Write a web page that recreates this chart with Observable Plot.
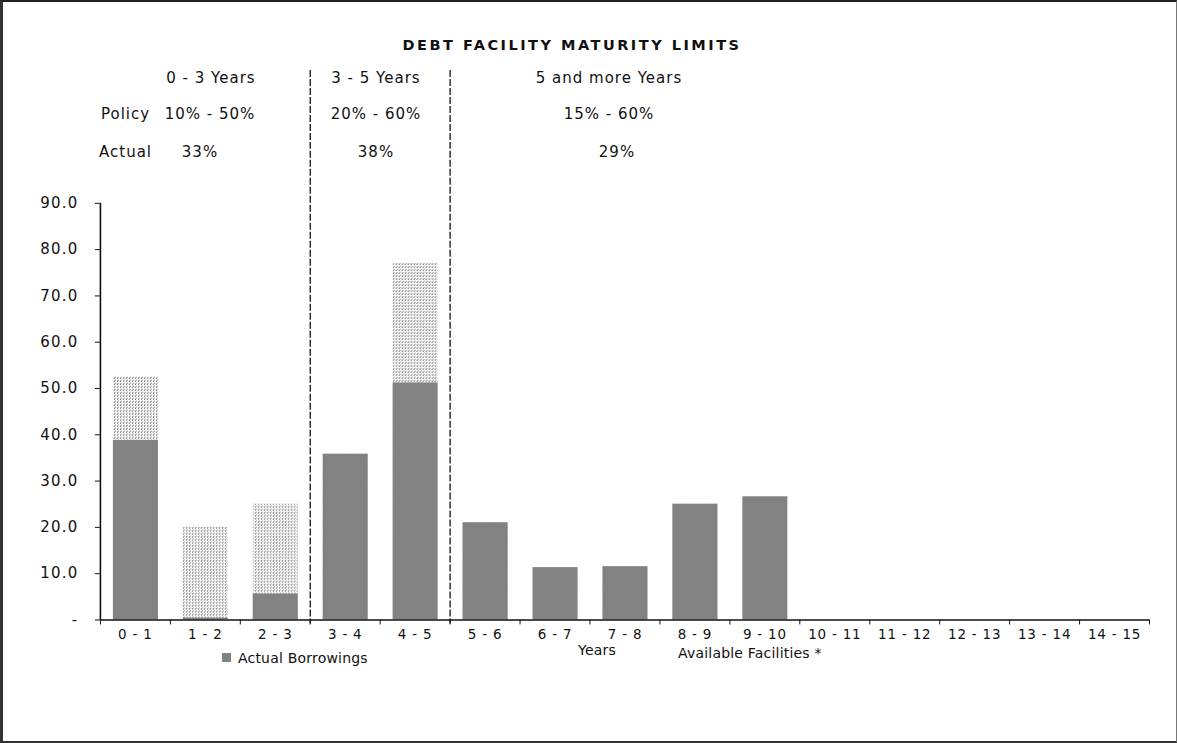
<!DOCTYPE html>
<html>
<head>
<meta charset="utf-8">
<script src="https://cdn.jsdelivr.net/npm/d3@7"></script>
<script src="https://cdn.jsdelivr.net/npm/@observablehq/plot@0.6"></script>
<style>
  html, body { margin: 0; padding: 0; background: #fff; overflow: hidden; }
  #page { position: relative; width: 1177px; height: 743px; overflow: hidden; box-sizing: border-box;
          border-left: 3px solid #333; border-top: 2px solid #222; border-right: 1px solid #777; border-bottom: 2px solid #333;
          font-family: "DejaVu Sans", sans-serif; color: #111; }
  #chart { position: absolute; left: -3px; top: -2px; }
  .lbl { position: absolute; white-space: nowrap; font-size: 15px; letter-spacing: 1px; transform: translate(-50%, -50%); }
  .left { transform: translate(0, -50%); }
  .title { font-weight: bold; font-size: 14.5px; letter-spacing: 2.5px; }
  .legend { font-size: 14px; letter-spacing: 0.2px; }
  .swatch { position: absolute; width: 9px; height: 9px; background: #828282; }
</style>
</head>
<body>
<svg width="0" height="0" style="position:absolute">
  <defs>
    <pattern id="stipple" width="3" height="3" patternUnits="userSpaceOnUse">
      <rect width="3" height="3" fill="#fff"/>
      <rect x="0" y="0" width="1" height="1" fill="#333"/>
      <rect x="1" y="2" width="1" height="1" fill="#888"/>
    </pattern>
  </defs>
</svg>
<div id="page">
  <div id="chart"></div>
</div>
<script>
// ---- data ----
const categories = ["0 - 1", "1 - 2", "2 - 3", "3 - 4", "4 - 5", "5 - 6", "6 - 7", "7 - 8", "8 - 9", "9 - 10", "10 - 11", "11 - 12", "12 - 13", "13 - 14", "14 - 15"];
const actualBorrowings    = [38.8, 0.4, 5.6, 35.8, 51.2, 21.0, 11.3, 11.5, 25.0, 26.6, 0, 0, 0, 0, 0];
const availableFacilities = [52.5, 20.0, 25.0, 35.8, 77.0, 21.0, 11.3, 11.5, 25.0, 26.6, 0, 0, 0, 0, 0];
const yTicks = [0, 10, 20, 30, 40, 50, 60, 70, 80, 90];
const bandDividers = [3, 5]; // boundaries between 0-3, 3-5 and 5+ year groups

const title = "DEBT FACILITY MATURITY LIMITS";
const groupNames = ["0 - 3 Years", "3 - 5 Years", "5 and more Years"];
const policyRanges = ["10% - 50%", "20% - 60%", "15% - 60%"];
const actualShares = ["33%", "38%", "29%"];
const legendActual = "Actual Borrowings";
const legendAvailable = "Available Facilities *";
const xTitle = "Years";

// ---- table ----
const rows = categories.map((c, i) => ({
  cat: c, i, actual: actualBorrowings[i], available: availableFacilities[i]
}));
const boundaries = categories.map((_, i) => i).concat([categories.length]);
const centers = categories.map((_, i) => i + 0.5);

const chart = Plot.plot({
  width: 1177,
  height: 743,
  marginLeft: 100,
  marginRight: 27,
  marginTop: 203,
  marginBottom: 123,
  style: { fontFamily: "DejaVu Sans, sans-serif", color: "#111", background: "transparent" },
  x: { type: "linear", domain: [0, categories.length], label: null },
  y: { domain: [0, 90], label: null },
  marks: [
    Plot.rectY(rows, { x1: "i", x2: (d) => d.i + 1, y: "available", fill: "url(#stipple)", insetLeft: 13, insetRight: 12 }),
    Plot.rectY(rows, { x1: "i", x2: (d) => d.i + 1, y: "actual", fill: "#828282", insetLeft: 13, insetRight: 12 }),
    Plot.ruleY([0], { stroke: "#111", strokeWidth: 1.6 }),
    Plot.ruleX([0], { y1: 0, y2: 90, stroke: "#111", strokeWidth: 1.6 }),
    Plot.ruleX(bandDividers, { stroke: "#111", strokeWidth: 1.3, strokeDasharray: "7,2", insetTop: -133, insetBottom: -4 }),
    Plot.axisY({ ticks: yTicks, tickSize: 5, tickPadding: 17, fontSize: 15, label: null,
                 tickFormat: (d) => d === 0 ? "-" : d.toFixed(1) }),
    Plot.axisX({ ticks: boundaries, tickSize: 5, tickFormat: () => "", label: null }),
    Plot.axisX({ ticks: centers, tickSize: 0, tickPadding: 9, fontSize: 13.5, label: null,
                 tickFormat: (d) => categories[Math.floor(d)] })
  ]
});
chart.querySelectorAll("[aria-label='y-axis tick label'] text").forEach(t => t.style.letterSpacing = "1.2px");
chart.querySelectorAll("[aria-label='x-axis tick label'] text").forEach(t => t.style.letterSpacing = "0.8px");
document.getElementById("chart").appendChild(chart);

// ---- header / legend text ----
const page = document.getElementById("page");
function addLabel(text, x, y, cls) {
  const el = document.createElement("div");
  el.className = "lbl" + (cls ? " " + cls : "");
  el.textContent = text;
  el.style.left = (x - 3) + "px";
  el.style.top = (y - 2) + "px";
  page.appendChild(el);
  return el;
}
addLabel(title, 572, 45, "title");
const groupX = [211, 376, 609];
groupNames.forEach((g, k) => addLabel(g, groupX[k], 78));
addLabel("Policy", 101, 114, "left");
const policyX = [210, 376, 609];
policyRanges.forEach((p, k) => addLabel(p, policyX[k], 114));
addLabel("Actual", 99, 152, "left");
const shareX = [200, 376, 617];
actualShares.forEach((s, k) => addLabel(s, shareX[k], 152));

const sw = document.createElement("div");
sw.className = "swatch";
sw.style.left = (222 - 3) + "px";
sw.style.top = (653 - 2) + "px";
page.appendChild(sw);
addLabel(legendActual, 238, 658, "left legend");
addLabel(xTitle, 597, 650, "legend");
addLabel(legendAvailable, 678, 653, "left legend");
</script>
</body>
</html>
